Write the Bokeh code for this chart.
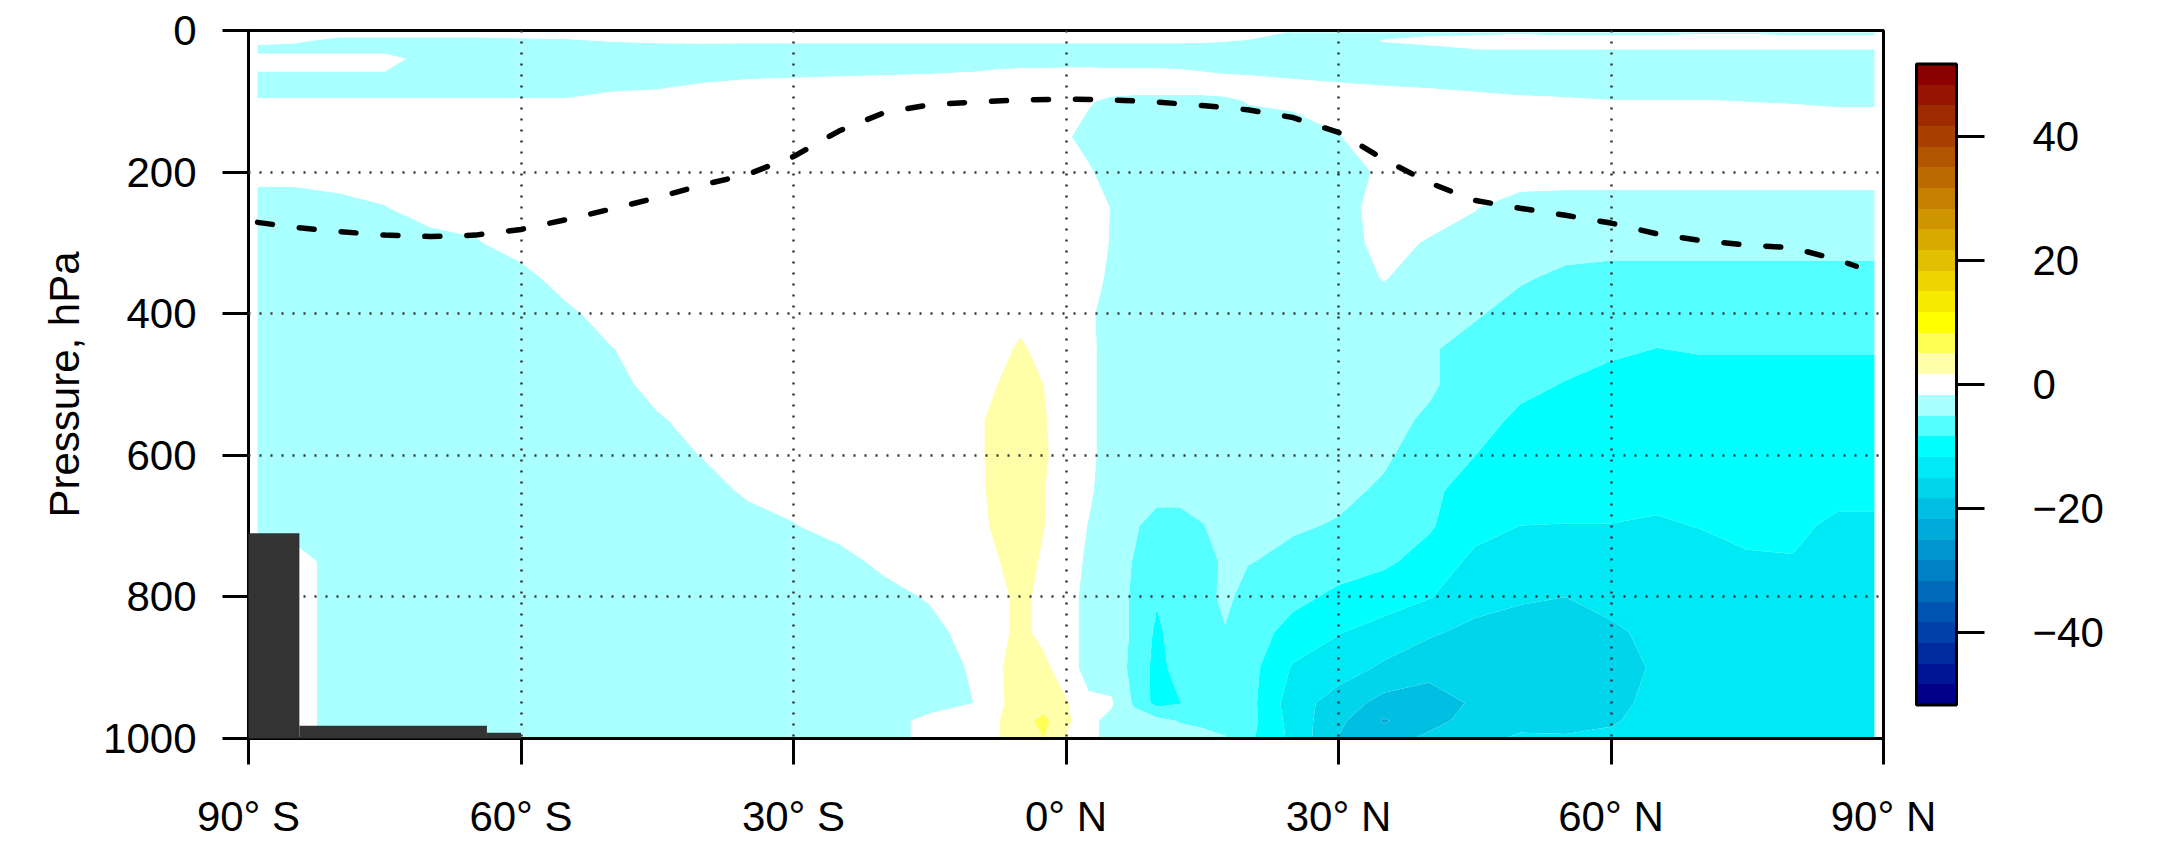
import numpy as np
from bokeh.plotting import figure
from bokeh.models import ColorBar, LinearColorMapper, FixedTicker, Range1d
from bokeh.embed import file_html
from bokeh.resources import INLINE

# ---------------- data ----------------
lat = [-89, -85, -80, -75, -70, -65, -60, -55, -50, -45, -40, -35, -30, -25, -20, -15, -10,
       -7.5, -5, -2.5, 0, 2.5, 5, 7.5, 10, 12.5, 15, 17.5, 20,
       25, 30, 35, 40, 45, 50, 55, 60, 65, 70, 75, 80, 85, 89]
pressure = [3, 15, 25, 40, 60, 80, 100, 150, 200, 250, 300, 350, 400, 450, 500,
            550, 600, 650, 700, 750, 800, 850, 900, 950, 975, 1000]

r3 = ([0, 0, 0, 0, 0, 0, 0, 0, 0, 0, 0, 0, 0, 0, 0, 0, 0]
      + [0, 0, 0, 0, 0, 0, 0, 0, 0, 0, 0, 0]
      + [-2, -2.5, -2.5, -2.5, -2.5, -2, -2.5, -2.5, -2.5, -2, -2, -2.5, -2.5, -2.5])
r15 = ([0, -1, -3, -3, -3, -3, -2.5, -2.2, -1.5, -1, -0.8, -1, -1, -1, -1, -1, -1]
       + [-1, -1, -1, -1, -1, -1, -1, -1, -1, -1.2, -1.5, -2]
       + [-3, -3.3, -1.5, -0.5, 0, 0, 0, 0, 0, 0, 0, 0, 0, 0])
r25 = ([-3, -3, -3, -3, -3.3, -3.3, -3.3, -3.3, -3.3, -3.3, -3.3, -3.3, -3.3, -3.3, -3.3, -3.3, -3.3]
       + [-3.3, -3.3, -3.3, -3.3, -3.3, -3.3, -3.3, -3.3, -3.3, -3.3, -3.3, -3.3]
       + [-3.3, -3.3, -3, -2.5, -1.5, -1.5, -1.5, -1.5, -1.5, -1.5, -1.5, -1.5, -1.5, -1.5])
r40 = ([-0.5, -0.5, -0.5, -0.5, -3, -3.3, -3.3, -3.3, -3.3, -3.3, -3.3, -3.3, -3.3, -3.3, -3.3, -3.3, -3.3]
       + [-3, -3, -3, -3, -3, -3, -3, -3, -3, -3, -3, -3]
       + [-3.3, -3.3, -3.3, -3.3, -3.3, -3.3, -3.3, -3.3, -3.3, -3.3, -3.3, -3.3, -3.3, -3.3])
r60 = ([-1.8, -1.8, -1.8, -1.8, -3, -3.3, -3.3, -3.3, -3.3, -3.3, -3.3, -3, -2.5, -2.2, -2, -1.8, -1.5]
       + [-1.2, -1, -1, -0.8, -0.8, -1, -1, -1, -1.2, -1.5, -1.8, -2]
       + [-2.5, -3, -3.3, -3.3, -3.3, -3.3, -3.3, -3.3, -3.3, -3.3, -3.3, -3.3, -3.3, -3.3])
r80 = ([-3.3, -3.3, -3.3, -3.3, -3.3, -3.3, -3.3, -3.3, -2.5, -2, -1, 0, 0, 0, 0, 0, 0]
       + [0, 0, 0, 0, 0, 0, 0, 0, 0, 0, 0, 0]
       + [-0.5, -1, -1.5, -1.8, -2.5, -3.3, -3.3, -3.3, -3.3, -3.3, -3.3, -3.3, -3.3, -3.3])
r100 = ([-1.2, -1.2, -1.2, -1.2, -1.2, -1.2, -1.2, -1.2, 0, 0, 0, 0, 0, 0, 0, 0, 0]
        + [0, 0, 0, 0, -1.3, -2.5, -3, -3, -3, -3, -2.5, -1.5]
        + [-1, -0.5, 0, 0, 0, -0.5, -1, -1.5, -1.5, -1.5, -1.7, -1.8, -2, -2])
r150 = ([0, 0, 0, 0, 0, 0, 0, 0, 0, 0, 0, 0, 0, 0, 0, 0, 0]
        + [0, 0, 0, -1.2, -3, -3.3, -3.3, -3.3, -3.3, -3.3, -3.3, -3.3]
        + [-3.3, -1.8, 0, 0, 0, 0, 0, 0, 0, 0, 0, 0, 0, 0])
r200 = ([0, 0, 0, 0, 0, 0, 0, 0, 0, 0, 0, 0, 0, 0, 0, 0, 0]
        + [0, 0, 0, 0, -1.2, -3.3, -3.3, -3.3, -3.3, -3.3, -3.3, -3.3]
        + [-3.3, -3.3, -1, 0, 0, 0, 0, 0, 0, 0, 0, 0, 0, 0])
r250 = ([-4, -4, -2.8, -1.8, 0, 0, 0, 0, 0, 0, 0, 0, 0, 0, 0, 0, 0]
        + [0, 0, 0, 0, 0, -1.8, -3.3, -3.3, -3.3, -3.3, -3.3, -3.3]
        + [-3.3, -3.3, 0, 0, -1.5, -3, -3.3, -3.3, -3.3, -3.3, -3.3, -3.3, -3.3, -3.3])
r300 = ([-3.3, -3.3, -3.3, -3, -3, -2, 0, 0, 0, 0, 0, 0, 0, 0, 0, 0, 0]
        + [0, 0, 0, 0, 0, -1.9, -3.3, -3.3, -3.3, -3.3, -3.3, -3.3]
        + [-3.3, -3.3, -0.5, -2, -3, -3.3, -3.3, -3.3, -3.3, -3.3, -3.3, -3.3, -3.3, -3.3])
r350 = ([-3.3, -3.3, -3.3, -3.3, -3.3, -3.3, -3, 0, 0, 0, 0, 0, 0, 0, 0, 0, 0]
        + [0, 0, 0, 0, 0, -2.5, -3.3, -3.3, -3.3, -3.3, -3.3, -3.3]
        + [-3.3, -3.3, -1.5, -3.3, -3.3, -4.5, -6, -6.7, -6.7, -6.7, -6.7, -6.7, -6.7, -6.7])
r400 = ([-3.3, -3.3, -3.3, -3.3, -3.3, -3.3, -3.3, -2.5, 0, 0, 0, 0, 0, 0, 0, 0, 0]
        + [0, 0, 0, 0, -1, -3.3, -3.3, -3.3, -3.3, -3.3, -3.3, -3.3]
        + [-3.3, -3.3, -3.3, -3.3, -4.5, -6.7, -6.7, -6.7, -6.7, -6.7, -6.7, -6.7, -6.7, -6.7])
r450 = ([-3.3, -3.3, -3.3, -3.3, -3.3, -3.3, -3.3, -3.3, -1.8, 0, 0, 0, 0, 0, 0, 0, 0]
        + [0, 2.5, 0, 0, -0.8, -3.3, -3.3, -3.3, -3.3, -3.3, -3.3, -3.3]
        + [-3.3, -3.3, -3.3, -4.5, -6.7, -6.7, -7, -7.5, -8.4, -8, -8, -8, -8, -8])
r500 = ([-3.3, -3.3, -3.3, -3.3, -3.3, -3.3, -3.3, -3.3, -3.3, 0, 0, 0, 0, 0, 0, 0, 0]
        + [1.7, 3.3, 1.7, 0, -0.8, -3.3, -3.3, -3.3, -3.3, -3.3, -3.3, -3.3]
        + [-3.3, -3.3, -3.5, -4.5, -6.7, -7.5, -8.5, -10, -10, -10, -10, -10, -10, -10])
r550 = ([-3.3, -3.3, -3.3, -3.3, -3.3, -3.3, -3.3, -3.3, -3.3, -2.2, 0, 0, 0, 0, 0, 0, 0.5]
        + [3.3, 3.3, 2, 0, -0.8, -3.3, -3.3, -3.3, -3.3, -3.3, -3.3, -3.3]
        + [-3.3, -3.3, -4, -5.5, -7, -9, -10, -10, -10, -10, -10, -10, -10, -10])
r600 = ([-3.3, -3.3, -3.3, -3.3, -3.3, -3.3, -3.3, -3.3, -3.3, -3.3, -1.5, 0, 0, 0, 0, 0, 0.5]
        + [3.3, 3.3, 2.2, 0, -0.8, -3.3, -3.3, -3.3, -3.3, -3.3, -3.3, -3.3]
        + [-3.3, -3.5, -4.5, -6.7, -8.3, -10, -10, -10, -10, -10, -10, -10, -10, -10])
r650 = ([-3.3, -3.3, -3.3, -3.3, -3.3, -3.3, -3.3, -3.3, -3.3, -3.3, -3.3, -1, 0, 0, 0, 0, 0.5]
        + [3, 3.3, 1.8, 0, -1.2, -3.3, -3.3, -3.5, -3.5, -3.3, -3.3, -3.3]
        + [-3.5, -4.2, -5.5, -7.5, -10, -10, -10, -10, -10.5, -10.5, -10.5, -10.5, -10.5, -10.5])
r700 = ([-3.3, -3.3, -3.3, -3.3, -3.3, -3.3, -3.3, -3.3, -3.3, -3.3, -3.3, -3.3, -1.9, 0, 0, 0, 0.3]
        + [2.5, 3.3, 1.8, 0, -1.8, -3.3, -4.5, -6.7, -6.7, -5.2, -3.5, -3.3]
        + [-4.6, -5.3, -6.7, -8, -10.5, -11.7, -11.8, -11.8, -12.2, -11.5, -11, -10.8, -12.5, -12.5])
r750 = ([0, 0, -3.3, -3.3, -3.3, -3.3, -3.3, -3.3, -3.3, -3.3, -3.3, -3.3, -3.3, -3.3, -0.5, 0, 0]
        + [1.5, 3.3, 1.2, 0, -2.3, -3.3, -5.2, -6.7, -6.7, -6.7, -4.3, -4.8]
        + [-6, -7, -7.8, -9.5, -12.5, -13.3, -13.3, -13.3, -13.3, -13.3, -12, -11.9, -13.3, -13.3])
r800 = ([0, 0, -3.3, -3.3, -3.3, -3.3, -3.3, -3.3, -3.3, -3.3, -3.3, -3.3, -3.3, -3.3, -3.3, -1.2, 0.3]
        + [0.8, 2.5, 0.8, 0, -3, -3.3, -5.5, -8, -6.7, -6.7, -4, -6.5]
        + [-7.5, -9, -10, -11.5, -13.5, -14.5, -15, -13.5, -13.3, -13.3, -13, -13, -13.3, -13.3])
r850 = ([0, 0, -3.3, -3.3, -3.3, -3.3, -3.3, -3.3, -3.3, -3.3, -3.3, -3.3, -3.3, -3.3, -3.3, -3.3, 0.5]
        + [0.8, 2.5, 0.8, 0, -3, -3.3, -5.5, -9, -6.7, -6.7, -5.3, -6.7]
        + [-9.5, -11.5, -13, -14.5, -16, -16.7, -16.7, -15.8, -13.8, -13.3, -13.3, -13.3, -13.3, -13.3])
r900 = ([0, 0, -3.3, -3.3, -3.3, -3.3, -3.3, -3.3, -3.3, -3.3, -3.3, -3.3, -3.3, -3.3, -3.3, -3.3, -1.2]
        + [1.2, 3.3, 2.5, 0, -3, -3.3, -5.8, -9.5, -7, -6.7, -6.7, -7]
        + [-12, -13.5, -15.5, -17.5, -17.2, -17, -17, -16.7, -14.5, -13.3, -13.3, -13.3, -13.3, -13.3])
r950 = ([0, 0, -3.3, -3.3, -3.3, -3.3, -3.3, -3.3, -3.3, -3.3, -3.3, -3.3, -3.3, -3.3, -3.3, -3.3, -1.6]
        + [1, 3.3, 3.3, 2, -1, -1.3, -5.5, -9.5, -8.5, -6.7, -6.7, -7]
        + [-13.5, -16.5, -19.5, -19.5, -18, -17, -17, -16.5, -13.5, -13.3, -13.3, -13.3, -13.3, -13.3])
r975 = ([0, 0, -3.3, -3.3, -3.3, -3.3, -3.3, -3.3, -3.3, -3.3, -3.3, -3.3, -3.3, -3.3, -3.3, -0.5, 0]
        + [1.5, 3.5, 6, 2.5, -1, -2.5, -3.5, -4, -5.2, -5.7, -6, -7]
        + [-13, -17.5, -22, -19.5, -17, -16, -16.5, -15.5, -13.3, -13.3, -13.3, -13.3, -13.3, -13.3])
r1000 = ([0, 0, -3.3, -3.3, -3.3, -3.3, -3.3, -3.3, -3.3, -3.3, -3.3, -3.3, -3.3, -3.3, -3.3, -0.5, 0]
         + [1.5, 3.3, 5, 1.5, -1, -2.5, -3.3, -3.3, -3.5, -4, -4.8, -7.5]
         + [-12.5, -18.5, -20, -17.5, -16, -14.5, -14.5, -14, -13.3, -13.3, -13.3, -13.3, -13.3, -13.3])

rows = [r3, r15, r25, r40, r60, r80, r100, r150, r200, r250, r300, r350, r400, r450,
        r500, r550, r600, r650, r700, r750, r800, r850, r900, r950, r975, r1000]

# tropopause (dashed line)
trop_lat = [-89, -85, -80, -75, -70, -65, -60, -55, -50, -45, -40, -35, -30, -25, -20, -15, -10, -5,
            0, 5, 10, 15, 20, 25, 30, 35, 40, 45, 50, 55, 60, 65, 70, 75, 80, 85, 87]
trop_p = [271, 278, 284, 289, 291, 289, 281, 267, 252, 236, 218, 203, 178, 142, 116, 105, 101, 98,
          97, 98, 101, 106, 112, 123, 144, 182, 215, 240, 251, 261, 272, 287, 297, 303, 307, 324, 333]

# orography (surface pressure per latitude band)
ground_left = [-90, -84.4, -63.75]
ground_right = [-84.4, -63.75, -60]
ground_top = [710, 982, 992]
ground_bottom = [1000, 1000, 1000]

# colour scale
palette = ["#00008B", "#001595", "#002B9E", "#0040A8", "#0055B2", "#006ABB", "#0080C5",
           "#0095CF", "#00AAD8", "#00BFE2", "#00D5EC", "#00EAF5", "#00FFFF", "#55FFFF",
           "#AAFFFF", "#FFFFFF", "#FFFFAA", "#FFFF55", "#FFFF00", "#F5EA00", "#ECD500",
           "#E2BF00", "#D8AA00", "#CF9500", "#C58000", "#BB6A00", "#B25500", "#A84000",
           "#9E2B00", "#951500", "#8B0000"]
levels = [(-15.5 + i) * 10.0 / 3.0 for i in range(32)]

x_ticks = [-90, -60, -30, 0, 30, 60, 90]
x_labels = ["90° S", "60° S", "30° S", "0° N", "30° N", "60° N", "90° N"]
y_ticks = [0, 200, 400, 600, 800, 1000]
cb_ticks = [-40, -20, 0, 20, 40]
cb_labels = ["\u221240", "\u221220", "0", "20", "40"]

for r in rows:
    if len(r) != len(lat):
        raise ValueError("row length %d" % len(r))

Z = np.array(rows, dtype=float)

FONT = "Liberation Sans"

p = figure(width=2157, height=842, output_backend="svg", toolbar_location=None,
           x_range=Range1d(-90, 90), y_range=Range1d(1000, 0),
           min_border_left=248, min_border_right=274, min_border_top=30, min_border_bottom=102)
p.background_fill_color = "white"
p.border_fill_color = "white"
p.outline_line_color = "black"
p.outline_line_width = 3

cr = p.contour(x=lat, y=pressure, z=Z, levels=levels, fill_color=palette, line_color=None)

g = p.quad(left=ground_left, right=ground_right, top=ground_top, bottom=ground_bottom,
           fill_color="#333333", line_color=None)
g.level = "annotation"

tl = p.line(trop_lat, trop_p, line_color="black", line_width=5.5, line_dash="15 27",
            line_cap="round")
tl.level = "annotation"

# axes
p.xaxis.ticker = FixedTicker(ticks=x_ticks)
p.xaxis.major_label_overrides = {t: l for t, l in zip(x_ticks, x_labels)}
p.yaxis.ticker = FixedTicker(ticks=y_ticks)
p.yaxis.axis_label = "Pressure, hPa"
for ax in (p.xaxis[0], p.yaxis[0]):
    ax.axis_line_width = 3
    ax.axis_line_color = "black"
    ax.major_tick_line_width = 3
    ax.major_tick_line_color = "black"
    ax.major_tick_in = 0
    ax.major_tick_out = 26
    ax.minor_tick_line_color = None
    ax.major_label_text_font = FONT
    ax.major_label_text_font_size = "42px"
    ax.major_label_text_color = "black"
    ax.major_label_standoff = 26
p.xaxis.major_label_standoff = 28
p.yaxis.axis_label_text_font = FONT
p.yaxis.axis_label_text_font_size = "42px"
p.yaxis.axis_label_text_font_style = "normal"
p.yaxis.axis_label_text_color = "black"
p.yaxis.axis_label_standoff = 12

for gr in (p.xgrid[0], p.ygrid[0]):
    gr.grid_line_color = "#333333"
    gr.grid_line_width = 2.5
    gr.grid_line_dash = "2 9"
    gr.level = "guide"

mapper = LinearColorMapper(palette=palette, low=levels[0], high=levels[-1])
cb = ColorBar(color_mapper=mapper, ticker=FixedTicker(ticks=cb_ticks),
              major_label_overrides={t: l for t, l in zip(cb_ticks, cb_labels)},
              width=40, height=641, location="center_left", padding=33, margin=0,
              bar_line_color="black", bar_line_width=3,
              major_tick_in=0, major_tick_out=28, major_tick_line_color="black",
              major_tick_line_width=3, minor_tick_line_color=None,
              label_standoff=48, major_label_text_font=FONT,
              major_label_text_font_size="42px", major_label_text_color="black",
              background_fill_alpha=0, border_line_color=None)
p.add_layout(cb, "right")

open("out.html", "w").write(file_html(p, INLINE))
